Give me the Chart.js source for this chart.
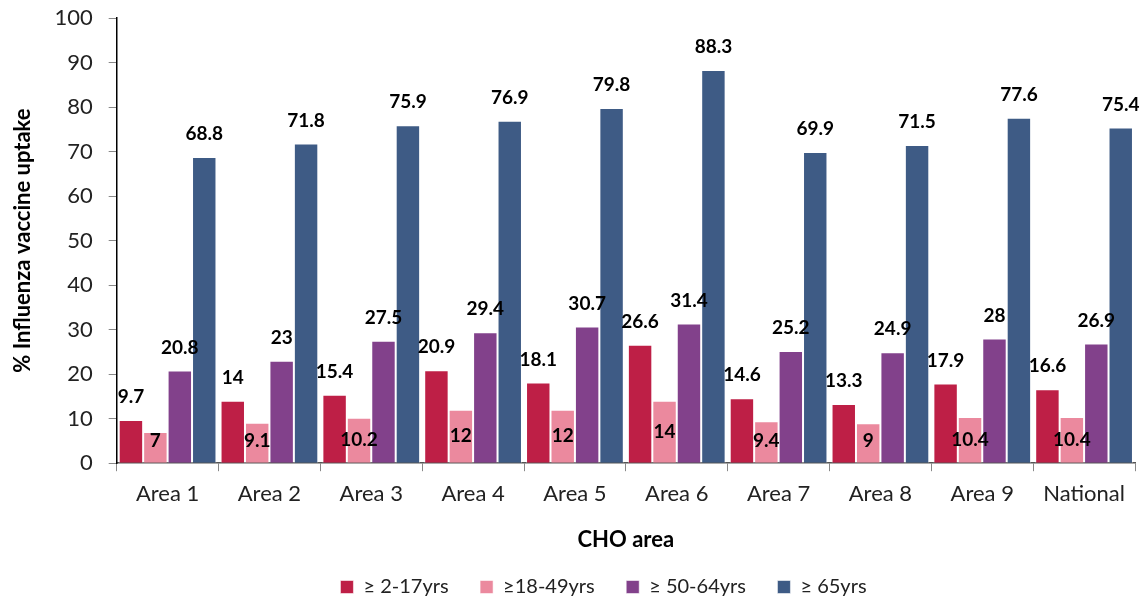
<!DOCTYPE html>
<html>
<head>
<meta charset="utf-8">
<script src="https://cdn.jsdelivr.net/npm/chart.js@4"></script>
<style>
  html, body { margin: 0; padding: 0; background: #fff; }
  #wrap { width: 1146px; height: 604px; }
</style>
</head>
<body>
<div id="wrap"><canvas id="uptakeChart"></canvas></div>
<script>
const areas = ["Area 1", "Area 2", "Area 3", "Area 4", "Area 5", "Area 6", "Area 7", "Area 8", "Area 9", "National"];
const age2to17 = [9.7, 14, 15.4, 20.9, 18.1, 26.6, 14.6, 13.3, 17.9, 16.6];
const age18to49 = [7, 9.1, 10.2, 12, 12, 14, 9.4, 9, 10.4, 10.4];
const age50to64 = [20.8, 23, 27.5, 29.4, 30.7, 31.4, 25.2, 24.9, 28, 26.9];
const age65plus = [68.8, 71.8, 75.9, 76.9, 79.8, 88.3, 69.9, 71.5, 77.6, 75.4];

const FONT = "Lato, 'Open Sans', sans-serif";

// value labels above the bars (18-49 series sits inside its bar)
const valueLabels = {
    id: "valueLabels",
    afterLayout(chart) {
        // legend sits a bit right of the canvas centre
        chart.legend.left += 33;
        chart.legend.right += 33;
    },
    afterDatasetsDraw(chart) {
        const ctx = chart.ctx;
        ctx.save();
        ctx.font = "bold 19px " + FONT;
        ctx.fillStyle = "#000";
        ctx.textAlign = "center";
        ctx.textBaseline = "middle";
        chart.data.datasets.forEach((ds, i) => {
            chart.getDatasetMeta(i).data.forEach((bar, j) => {
                let y;
                if (i === 1) y = Math.min((bar.y + bar.base) / 2, bar.base - 22);
                else y = bar.y - 23;
                ctx.fillText(String(ds.data[j]), bar.x, y);
            });
        });
        ctx.restore();
    }
};

const ctx = document.getElementById("uptakeChart").getContext("2d");
new Chart(ctx, {
    type: "bar",
    data: {
        labels: areas,
        datasets: [
            { label: "≥ 2-17yrs", data: age2to17, backgroundColor: "#BE1F46" },
            { label: "≥18-49yrs", data: age18to49, backgroundColor: "#EB899E" },
            { label: "≥ 50-64yrs", data: age50to64, backgroundColor: "#82418B" },
            { label: "≥ 65yrs", data: age65plus, backgroundColor: "#3E5B85" }
        ].map(d => Object.assign(d, {
            borderColor: "rgba(255,255,255,0.55)",
            borderWidth: 1,
            categoryPercentage: 0.96,
            barPercentage: 1.0
        }))
    },
    options: {
        responsive: true,
        maintainAspectRatio: false,
        animation: false,
        layout: { padding: { top: 0, right: 11, left: 6, bottom: -3 } },
        plugins: {
            tooltip: { enabled: false },
            legend: {
                position: "bottom",
                labels: {
                    boxWidth: 13,
                    boxHeight: 13,
                    padding: 14,
                    color: "#222",
                    font: { family: FONT, size: 20 },
                    generateLabels(chart) {
                        const items = Chart.defaults.plugins.legend.labels.generateLabels(chart);
                        // wider gap between legend entries
                        items.forEach((it, k) => { if (k < items.length - 1) it.text += "\u2003\u2009"; });
                        return items;
                    }
                }
            }
        },
        scales: {
            x: {
                grid: { drawOnChartArea: false, tickLength: 8, color: "#888" },
                border: { color: "#555", width: 1.5 },
                ticks: { color: "#222", font: { family: FONT, size: 22 }, padding: 10, maxRotation: 0 },
                title: { display: true, text: "CHO area", color: "#000", font: { family: FONT, size: 22, weight: "bold" }, padding: { top: 9, bottom: 10 } }
            },
            y: {
                min: 0,
                max: 100,
                ticks: { stepSize: 10, color: "#222", font: { family: FONT, size: 22 }, padding: 16 },
                grid: { drawOnChartArea: false, tickLength: 8, color: "#888" },
                border: { color: "#000", width: 1.5 },
                title: { display: true, text: "% Influenza vaccine uptake", color: "#000", font: { family: FONT, size: 22, weight: "bold" }, padding: { bottom: 2 } },
                afterFit(scale) { scale.paddingTop = 18; }
            }
        }
    },
    plugins: [valueLabels]
});
</script>
</body>
</html>
